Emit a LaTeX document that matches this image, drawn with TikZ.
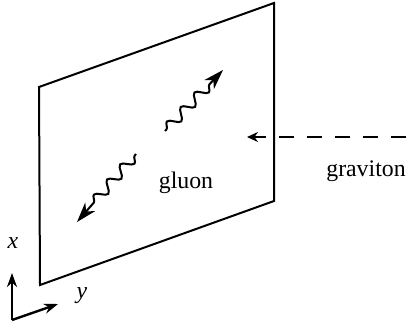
\documentclass[tikz,border=0pt]{standalone}
\usepackage{fontspec}
\setmainfont{Liberation Serif}
\usetikzlibrary{arrows.meta,decorations.pathmorphing}
\tikzset{
  gluon/.style={decorate,decoration={snake,amplitude=2.6,segment length=10,pre length=1,post length=9},
    -{Stealth[length=10pt,width=6.5pt,inset=3pt]}},
  graviton/.style={dash pattern=on 7.5pt off 6.5pt,-{Stealth[length=5.5pt,width=5pt]}},
  axis/.style={line width=1.2pt,-{Stealth[length=7pt,width=5pt]}}
}
\begin{document}
\begin{tikzpicture}[x=.5pt,y=-.5pt,line width=1pt,font=\fontsize{11.9}{14}\selectfont]
  \useasboundingbox (0,0) rectangle (415,327);
  % brane
  \coordinate (tl) at (39,87);
  \coordinate (tr) at (274,3);
  \coordinate (br) at (274,201);
  \coordinate (bl) at (40,285);
  \draw (tl)--(tr)--(br)--(bl)--cycle;
  % gluons
  \coordinate (g1s) at (136,154);
  \coordinate (g1e) at (77,222);
  \coordinate (g2s) at (165,131);
  \coordinate (g2e) at (223,70);
  \draw[gluon] (g1s)--(g1e);
  \draw[gluon] (g2s)--(g2e);
  \node (gl) at (186,183) {gluon};
  % graviton
  \coordinate (gs) at (406,137);
  \coordinate (ge) at (247,137);
  \draw[graviton] (gs)--(ge);
  \node (gr) at (366,171) {graviton};
  % axes
  \coordinate (o) at (12,320);
  \coordinate (xe) at (12,273);
  \coordinate (ye) at (58,304);
  \draw[axis] (o)--(xe);
  \draw[axis] (o)--(ye);
  \node (xl) at (13,243) {\textit{x}};
  \node (yl) at (82,296) {\textit{y}};
\end{tikzpicture}
\end{document}
